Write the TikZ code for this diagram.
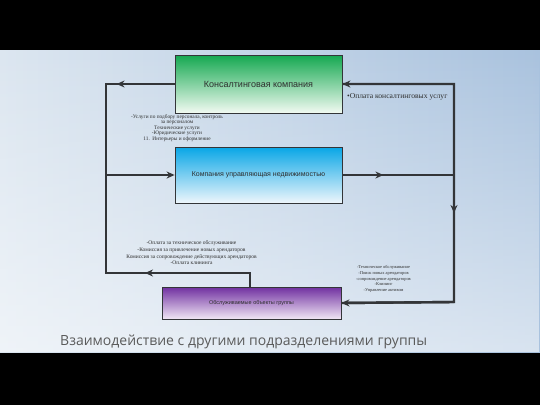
\documentclass[tikz,border=0pt]{standalone}
\usepackage{fontspec}
\setmainfont{Liberation Serif}
\newfontfamily\boxfont{Liberation Sans}
\newfontfamily\titlefont{Open Sans}
\usetikzlibrary{arrows.meta,decorations.markings,fadings}
\definecolor{linegray}{HTML}{333538}
\definecolor{bgleft}{HTML}{DCE6F0}
\definecolor{bgright}{HTML}{A9C2DE}
\definecolor{gtop}{HTML}{14A850}
\definecolor{gbot}{HTML}{F2FAF2}
\definecolor{btop}{HTML}{08A6E6}
\definecolor{bbot}{HTML}{EEF6FC}
\definecolor{ptop}{HTML}{7030A0}
\definecolor{pbot}{HTML}{F0E6F5}
\definecolor{txtgray}{HTML}{2E2E2E}
\definecolor{titlegray}{HTML}{5A5A5A}
\begin{document}
\begin{tikzpicture}[x=1pt,y=-1pt,
  box/.style={draw=linegray, line width=0.8pt, shading=axis, inner sep=0pt, font=\boxfont, text=txtgray},
  conn/.style={draw=linegray, line width=2.4pt, line join=miter},
  endtip/.style={-{Stealth[length=8pt,width=7pt]}},
  midtip/.style={postaction={decorate}, decoration={markings, mark=at position #1 with {\arrow{Stealth[length=8pt,width=7pt]}}}},
  small/.style={font=#1, text=txtgray, align=center, inner sep=0pt}
]
\useasboundingbox (0,0) rectangle (540,405);
% background
\fill[black] (0,0) rectangle (540,405);
\shade[left color=bgleft, right color=bgright] (0,50) rectangle (540,352);
\fill[white, opacity=0.55, path fading=north] (0,50) rectangle (540,352);

% boxes
\node[box, top color=gtop, bottom color=gbot, minimum width=167pt, minimum height=58pt] (g) at (258.5,84) {\fontsize{9}{10}\selectfont Консалтинговая компания};
\node[box, top color=btop, bottom color=bbot, minimum width=167pt, minimum height=56pt] (b) at (258.5,175) {\fontsize{7}{8}\selectfont Компания управляющая недвижимостью};
\node[box, top color=ptop, bottom color=pbot, minimum width=179pt, minimum height=32pt] (p) at (251.5,303) {\fontsize{5.5}{6}\selectfont Обслуживаемые объекты группы};

% corner coordinates
\coordinate (tl) at (106,84);
\coordinate (ml) at (106,175);
\coordinate (bl) at (106,273);
\coordinate (bm) at (250,273);
\coordinate (tr) at (454,84);
\coordinate (mr) at (454,175);
\coordinate (br) at (454,302);

% left loop
\draw[conn] (g.west) -- (tl) -- (bl) -- (bm) -- (p.north -| bm);
\draw[conn, midtip=58pt] (g.west) -- (tl);
\draw[conn, endtip] (ml) -- (b.west);
\draw[conn, midtip=105pt] (bm) -- (bl);

% right loop
\draw[conn] (g.east) -- (tr) -- (br) -- (p.east);
\draw[conn, endtip] (tr) -- (g.east);
\draw[conn, midtip=41pt] (b.east) -- (mr);
\draw[conn, midtip=38pt] (mr) -- (br);
\draw[conn, endtip] (br) -- (p.east);

% labels
\node[small={\fontsize{7.6}{8}\selectfont}, anchor=west] (lpay) at (347,97) {•Оплата консалтинговых услуг};
\node[small={\fontsize{5.3}{5.6}\selectfont}] (lserv) at (177,128) {-Услуги по подбору персонала, контроль\\за персоналом\\Технические услуги\\-Юридические услуги\\11.\ \ Интерьеры и оформление};
\node[small={\fontsize{5.5}{6.7}\selectfont}] (lobj) at (191.5,253) {-Оплата за техническое обслуживание\\-Комиссия за привлечение новых арендаторов\\Комиссия за сопровождение действующих арендаторов\\-Оплата клининга};
\node[small={\fontsize{4.4}{5.8}\selectfont}] (lmgmt) at (383.5,279) {-Техническое обслуживание\\-Поиск новых арендаторов\\-сопровождение арендаторов\\-Клининг\\-Управление активом};

% title
\node[font=\titlefont\fontsize{14}{16}\selectfont, text=titlegray, anchor=west, inner sep=0pt] (title) at (60,342) {Взаимодействие с другими подразделениями группы};
\end{tikzpicture}
\end{document}
